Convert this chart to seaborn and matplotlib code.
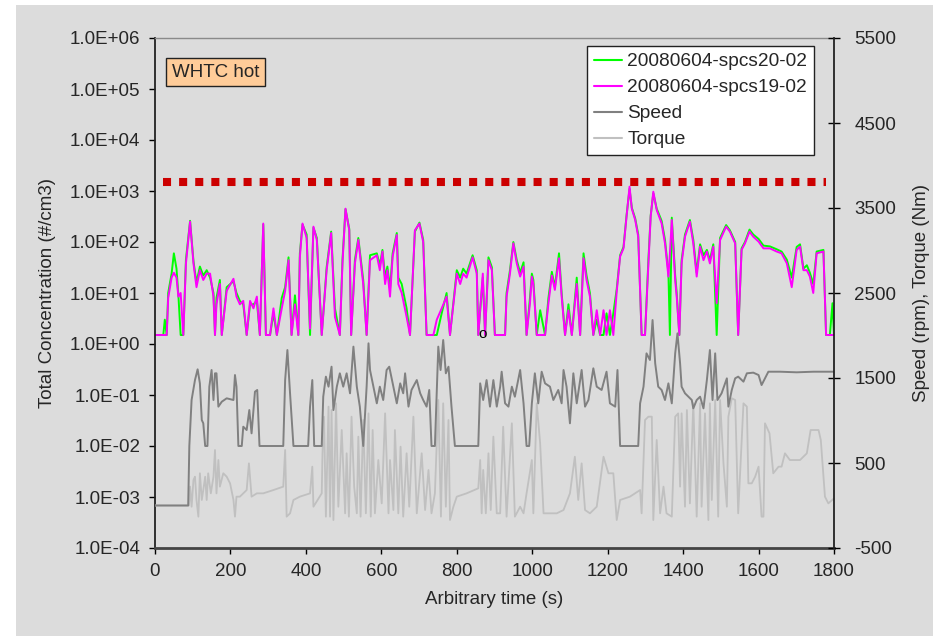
import matplotlib
matplotlib.use("Agg")
import matplotlib.pyplot as plt
import seaborn as sns
from matplotlib.ticker import FuncFormatter, FixedLocator, NullLocator
from matplotlib.lines import Line2D
from matplotlib.patches import Rectangle

# Concentracion total (#/cm3) - dos mediciones
t_conc = [0, 22, 26, 31, 35, 44, 50, 57, 62, 68,
          75, 82, 93, 102, 110, 119, 128, 137, 146, 155,
          159, 163, 172, 177, 190, 208, 216, 225, 234, 243,
          252, 261, 270, 278, 287, 294, 305, 314, 323, 336,
          345, 354, 362, 371, 380, 384, 391, 402, 411, 420,
          429, 442, 455, 467, 477, 490, 497, 505, 515, 520,
          530, 539, 552, 561, 570, 588, 596, 603, 610, 616,
          623, 630, 641, 645, 654, 667, 676, 689, 701, 711,
          720, 738, 747, 760, 773, 782, 800, 809, 817, 826,
          842, 853, 857, 869, 875, 884, 893, 901, 915, 928,
          932, 941, 950, 959, 968, 977, 985, 994, 999, 1003,
          1012, 1021, 1034, 1043, 1052, 1060, 1071, 1078, 1087, 1096,
          1105, 1118, 1127, 1136, 1144, 1153, 1162, 1171, 1180, 1189,
          1197, 1206, 1215, 1224, 1233, 1242, 1250, 1258, 1264, 1273,
          1281, 1290, 1299, 1308, 1314, 1321, 1330, 1343, 1352, 1361,
          1365, 1370, 1379, 1383, 1390, 1396, 1405, 1418, 1427, 1436,
          1445, 1454, 1463, 1471, 1480, 1489, 1498, 1514, 1524, 1538,
          1546, 1555, 1564, 1576, 1586, 1600, 1613, 1630, 1648, 1661,
          1675, 1688, 1701, 1710, 1719, 1728, 1736, 1745, 1754, 1772,
          1779, 1789, 1796, 1800]

conc_spcs19 = [1.5, 1.5, 1.5, 1.5, 8, 20, 25, 20, 8.5, 10,
               1.5, 38, 250, 38, 13, 28, 18, 24, 24, 8.5,
               1.5, 6, 15, 1.5, 11, 19, 8.5, 6, 7, 1.5,
               7, 5, 8.5, 1.5, 230, 1.5, 1.5, 5, 1.5, 5,
               11, 44, 1.5, 6, 1.5, 50, 230, 120, 2, 200,
               110, 1.5, 28, 150, 3.4, 1.5, 38, 450, 170, 1.5,
               38, 110, 15, 1.5, 44, 55, 28, 65, 15, 28,
               8.5, 52, 137, 15, 10, 3.4, 1.5, 170, 230, 100,
               1.5, 1.5, 3, 5, 8.5, 1.5, 24, 15, 24, 20,
               50, 24, 1.5, 24, 1.5, 44, 28, 1.5, 1.5, 1.5,
               8.5, 24, 94, 38, 21, 33, 1.5, 6.3, 21, 15,
               1.5, 1.5, 1.5, 6.3, 22, 11.5, 48, 8.5, 1.5, 4.6,
               1.5, 15, 1.5, 48, 18, 8.5, 1.5, 4.6, 1.5, 4.6,
               1.5, 4.6, 1.5, 10.6, 52, 75, 314, 1216, 450, 270,
               127, 1.5, 1.5, 38, 314, 970, 424, 232, 94, 21,
               60, 270, 18, 8.5, 1.5, 38, 127, 250, 94, 21,
               81, 44, 65, 38, 81, 6.3, 109, 200, 160, 94,
               1.5, 70, 94, 160, 127, 102, 75, 75, 65, 60,
               38, 13, 70, 81, 28, 28, 21, 10, 60, 65,
               1.5, 1.5, 1.5, 1.5]

conc_spcs20 = [1.5, 1.5, 3, 1.5, 10, 24, 60, 30, 9, 1.5,
               1.5, 45, 260, 42, 16, 33, 22, 28, 20, 10,
               1.5, 8, 18, 1.5, 13, 17, 10, 7, 6, 1.5,
               6, 6, 7, 1.5, 220, 1.5, 1.5, 4, 1.5, 8,
               13, 50, 1.5, 9, 1.5, 60, 220, 140, 1.5, 190,
               120, 1.5, 32, 160, 5, 1.5, 45, 440, 180, 1.5,
               45, 120, 18, 1.5, 55, 60, 35, 70, 20, 33,
               12, 60, 150, 20, 15, 5, 1.5, 160, 240, 110,
               1.5, 1.5, 1.5, 4, 10, 1.5, 28, 20, 30, 24,
               55, 28, 1.5, 20, 1.5, 50, 32, 1.5, 1.5, 1.5,
               10, 28, 100, 44, 25, 40, 1.5, 8, 24, 18,
               1.5, 4.6, 1.5, 8, 26, 13, 60, 10, 1.5, 6,
               1.5, 20, 1.5, 60, 22, 10, 1.5, 3, 1.5, 1.5,
               4, 1.5, 4, 12, 55, 80, 330, 1100, 470, 290,
               140, 1.5, 1.5, 45, 330, 900, 450, 260, 110, 25,
               1.5, 300, 22, 10, 1.5, 44, 140, 270, 110, 25,
               90, 55, 70, 44, 90, 1.5, 120, 215, 170, 100,
               1.5, 75, 100, 175, 140, 115, 85, 82, 72, 65,
               45, 20, 80, 90, 30, 35, 25, 15, 65, 70,
               1.5, 1.5, 6.3, 1.5]

# Velocidad del motor (rpm)
t_speed = [0, 88, 91, 97, 106, 113, 119, 124, 128, 133,
           139, 144, 150, 155, 159, 163, 168, 177, 190, 208,
           212, 216, 221, 230, 234, 243, 250, 256, 265, 271,
           277, 340, 345, 351, 358, 367, 406, 411, 417, 422,
           442, 446, 453, 460, 468, 473, 482, 490, 499, 508,
           517, 526, 535, 543, 552, 561, 566, 570, 579, 588,
           596, 605, 614, 621, 632, 641, 650, 658, 663, 672,
           680, 694, 703, 711, 720, 727, 733, 742, 751, 757,
           764, 771, 778, 786, 795, 857, 862, 870, 879, 888,
           897, 906, 915, 919, 928, 937, 946, 954, 968, 977,
           985, 992, 999, 1007, 1016, 1025, 1034, 1047, 1056, 1069,
           1078, 1083, 1091, 1100, 1109, 1118, 1131, 1140, 1149, 1162,
           1171, 1184, 1197, 1206, 1220, 1226, 1233, 1281, 1286, 1295,
           1303, 1312, 1319, 1326, 1334, 1343, 1352, 1361, 1370, 1379,
           1385, 1392, 1396, 1405, 1414, 1423, 1427, 1436, 1445, 1454,
           1463, 1471, 1478, 1485, 1491, 1502, 1516, 1520, 1529, 1538,
           1546, 1560, 1569, 1586, 1600, 1608, 1617, 1626, 1657, 1701,
           1745, 1800]

speed = [0, 0, 700, 1241, 1476, 1602, 1437, 1006, 967, 700,
         700, 1398, 1594, 1241, 1555, 1555, 1163, 1221, 1261, 1241,
         1535, 1398, 700, 700, 927, 888, 1123, 849, 1339, 1359,
         700, 700, 1476, 1829, 1320, 700, 700, 1163, 1476, 700,
         700, 1280, 1516, 1398, 1633, 1123, 1398, 1555, 1398, 1555,
         1320, 1869, 1398, 1163, 700, 1398, 1908, 1594, 1398, 1202,
         1398, 1241, 1594, 1633, 1398, 1202, 1437, 1320, 1555, 1163,
         1359, 1476, 1320, 1241, 1163, 1359, 700, 700, 1869, 1594,
         1947, 1555, 1633, 1163, 700, 700, 1437, 1241, 1476, 1163,
         1476, 1163, 1398, 1574, 1202, 1163, 1398, 1280, 1594, 1202,
         700, 700, 1202, 1555, 1202, 1574, 1437, 1398, 1241, 1359,
         1202, 1594, 1398, 967, 1555, 1202, 1594, 1163, 1241, 1614,
         1398, 1359, 1574, 1202, 1163, 1594, 700, 700, 1202, 1398,
         1790, 1712, 2182, 1672, 1398, 1359, 1241, 1437, 1202, 1790,
         2025, 1672, 1398, 1320, 1280, 1241, 1143, 1241, 1280, 1143,
         1476, 1829, 1241, 1790, 1241, 1320, 1496, 1163, 1359, 1496,
         1516, 1457, 1555, 1563, 1535, 1417, 1496, 1574, 1574, 1567,
         1574, 1574]

# Par motor (Nm)
t_torque = [0, 90, 93, 97, 102, 106, 110, 115, 119, 124,
            128, 133, 137, 141, 148, 155, 159, 163, 168, 172,
            181, 190, 199, 208, 212, 216, 225, 234, 243, 249,
            256, 270, 287, 314, 340, 345, 349, 358, 367, 384,
            411, 417, 420, 442, 444, 448, 453, 460, 464, 468,
            473, 480, 486, 495, 504, 508, 514, 521, 528, 535,
            539, 545, 552, 559, 566, 572, 577, 583, 592, 601,
            610, 619, 623, 632, 636, 645, 651, 658, 667, 674,
            685, 694, 707, 716, 725, 733, 742, 751, 758, 764,
            771, 778, 782, 791, 800, 826, 857, 862, 866, 870,
            877, 884, 890, 897, 906, 915, 923, 932, 946, 954,
            968, 977, 985, 999, 1003, 1012, 1021, 1030, 1065, 1083,
            1100, 1113, 1122, 1131, 1140, 1153, 1171, 1189, 1202, 1215,
            1224, 1233, 1259, 1286, 1290, 1299, 1308, 1317, 1321, 1330,
            1339, 1348, 1356, 1370, 1379, 1387, 1392, 1396, 1405, 1410,
            1418, 1427, 1436, 1445, 1449, 1458, 1467, 1471, 1476, 1485,
            1493, 1498, 1507, 1516, 1520, 1529, 1538, 1546, 1560, 1569,
            1573, 1582, 1591, 1600, 1608, 1613, 1617, 1629, 1639, 1653,
            1661, 1670, 1683, 1710, 1728, 1738, 1759, 1765, 1776, 1785,
            1800]

torque = [0, 0, 222, -14, 300, 339, 65, -131, 379, 65,
          182, 339, 65, 379, 143, 339, 653, 143, 535, 222,
          379, 339, 261, 65, -131, 104, 104, 143, 182, 496,
          104, 143, 143, 182, 222, 653, -131, -92, 65, 104,
          143, 457, -14, 143, 614, 1045, -131, 1163, -131, 1123,
          -171, 1202, -14, 888, -92, 614, -131, 1045, 222, -92,
          810, -131, 1006, -92, 1084, -131, 888, -92, 535, 25,
          1084, -92, 535, -53, 888, -92, 692, -131, 614, -14,
          1045, -92, 614, -53, 418, -92, 143, 1241, -131, 1202,
          -14, 1006, -171, -14, 104, 143, 202, 535, -92, 418,
          -92, 614, -53, 810, -92, -92, 927, -131, 967, -131,
          -14, -92, 143, 535, -92, 1202, 731, -92, -92, -53,
          143, 574, 65, 496, -53, -92, -14, 574, 379, 379,
          -171, 65, 104, 182, -92, 1006, 1045, 1045, -171, 771,
          -92, 222, -92, -131, 1045, 1084, 222, 1084, -14, 1123,
          25, 1202, -131, 1202, -14, 1084, -171, 1202, 65, 1241,
          -131, 1241, 496, -14, 1045, 1261, 1241, -92, 1202, 1163,
          261, 261, 339, 457, -131, -131, 967, 849, 379, 457,
          457, 614, 535, 535, 614, 888, 888, 771, 104, 25,
          84]

limite = 1500          # linea de referencia (#/cm3)
limite_t = [20, 1780]  # tramo de la linea

BG = "#dcdcdc"
FS = 13.5

sns.set_theme(style="white")
plt.rcParams["font.family"] = ["Liberation Sans", "DejaVu Sans"]
plt.rcParams["axes.unicode_minus"] = False

fig = plt.figure(figsize=(9.33, 6.36), dpi=100, facecolor="white")
fig.patches.append(Rectangle((16 / 933, 0), 1 - 16 / 933, 1 - 5 / 636,
                             transform=fig.transFigure, facecolor=BG,
                             edgecolor="none", zorder=-10))

ax = fig.add_axes([155 / 933, 1 - 548 / 636, 679 / 933, 510 / 636])
ax.set_facecolor(BG)
ax.set_yscale("log")

sns.lineplot(x=t_conc, y=conc_spcs20, ax=ax, color="#00ff00", lw=1.4,
             estimator=None, sort=False)
sns.lineplot(x=t_conc, y=conc_spcs19, ax=ax, color="#ff00ff", lw=1.4,
             estimator=None, sort=False)
ax.hlines(limite, limite_t[0], limite_t[1], colors="#cc0000", lw=5.8,
          linestyles=(0, (1, 1)), capstyle="butt", zorder=5)
ax.text(869, 1.6, "o", ha="center", va="center", fontsize=11, color="black")

ax.set_xlim(0, 1800)
ax.set_ylim(1e-4, 1e6)
ax.set_xticks(range(0, 1801, 200))
ax.yaxis.set_major_locator(FixedLocator([10.0 ** k for k in range(-4, 7)]))
ax.yaxis.set_minor_locator(NullLocator())
ax.yaxis.set_major_formatter(FuncFormatter(lambda v, p: f"{v:.1E}"))
ax.tick_params(axis="y", left=True, direction="out", length=4.5, width=1,
               color="black", labelsize=FS, pad=6)
ax.tick_params(axis="x", bottom=True, direction="out", length=4.5, width=1,
               color="black", labelsize=FS, pad=6)
ax.set_xlabel("Arbitrary time (s)", fontsize=FS, labelpad=8)
ax.set_ylabel("Total Concentration (#/cm3)", fontsize=FS, labelpad=10)

for s in ["top", "left", "bottom", "right"]:
    ax.spines[s].set_visible(True)
ax.spines["top"].set_color("#8a8a8a")
ax.spines["top"].set_linewidth(1)
ax.spines["right"].set_visible(False)
ax.spines["left"].set_color("#222222")
ax.spines["left"].set_linewidth(1.3)
ax.spines["bottom"].set_color("#444444")
ax.spines["bottom"].set_linewidth(2)

ax2 = ax.twinx()
sns.lineplot(x=t_torque, y=torque, ax=ax2, color="#c0c0c0", lw=1.3,
             estimator=None, sort=False)
sns.lineplot(x=t_speed, y=speed, ax=ax2, color="#808080", lw=1.4,
             estimator=None, sort=False)
ax2.set_ylim(-500, 5500)
ax2.set_yticks(range(-500, 5501, 1000))
ax2.tick_params(axis="y", right=True, direction="inout", length=9, width=1,
                color="black", labelsize=FS, pad=10)
ax2.set_ylabel("Speed (rpm), Torque (Nm)", fontsize=FS, labelpad=12)
for s in ["top", "left", "bottom"]:
    ax2.spines[s].set_visible(False)
ax2.spines["right"].set_visible(True)
ax2.spines["right"].set_color("#222222")
ax2.spines["right"].set_linewidth(1.3)

ax.text(0.025, 0.933, "WHTC hot", transform=ax.transAxes, fontsize=FS,
        ha="left", va="center", zorder=6,
        bbox=dict(boxstyle="square,pad=0.3", facecolor="#ffcc99",
                  edgecolor="#222222", lw=1))

handles = [Line2D([], [], color="#00ff00", lw=1.5),
           Line2D([], [], color="#ff00ff", lw=1.5),
           Line2D([], [], color="#808080", lw=1.5),
           Line2D([], [], color="#c0c0c0", lw=1.5)]
labels = ["20080604-spcs20-02", "20080604-spcs19-02", "Speed", "Torque"]
leg = ax2.legend(handles, labels, loc="upper right",
                 bbox_to_anchor=(0.9705, 0.984), borderaxespad=0,
                 fontsize=13.8, frameon=True, fancybox=False, framealpha=1,
                 edgecolor="#222222", handlelength=1.5, handletextpad=0.25,
                 labelspacing=0.45, borderpad=0.35)
leg.get_frame().set_linewidth(1)
leg.set_zorder(10)

fig.savefig("out.png", dpi=100, facecolor=fig.get_facecolor())
plt.close(fig)
